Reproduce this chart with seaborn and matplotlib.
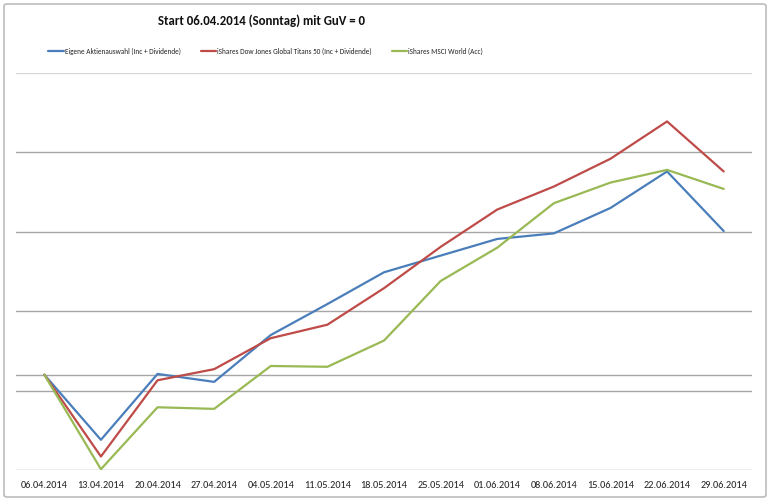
import matplotlib
matplotlib.use("Agg")
import matplotlib.pyplot as plt
from matplotlib.patches import FancyBboxPatch
import pandas as pd
import seaborn as sns

dates = ["06.04.2014", "13.04.2014", "20.04.2014", "27.04.2014", "04.05.2014",
         "11.05.2014", "18.05.2014", "25.05.2014", "01.06.2014", "08.06.2014",
         "15.06.2014", "22.06.2014", "29.06.2014"]

eigene = [0.0, -0.82, 0.01, -0.09, 0.50, 0.89, 1.29, 1.50, 1.71, 1.78, 2.10, 2.56, 1.81]
titans = [0.0, -1.03, -0.07, 0.07, 0.46, 0.63, 1.09, 1.61, 2.08, 2.37, 2.72, 3.19, 2.56]
msci = [0.0, -1.19, -0.41, -0.43, 0.11, 0.10, 0.43, 1.18, 1.60, 2.16, 2.42, 2.58, 2.34]

series_names = ["Eigene Aktienauswahl (Inc + Dividende)",
                "iShares Dow Jones Global Titans 50 (Inc + Dividende)",
                "iShares MSCI World (Acc)"]
colors = ["#4a7ebb", "#be4b48", "#98b954"]

df = pd.DataFrame({
    "datum": dates * 3,
    "wert": eigene + titans + msci,
    "serie": [series_names[0]] * 13 + [series_names[1]] * 13 + [series_names[2]] * 13,
})

sns.set_theme(style="white")
plt.rcParams["font.family"] = ["Carlito", "Liberation Sans", "DejaVu Sans"]

fig = plt.figure(figsize=(7.7, 5.01), dpi=100)
ax = fig.add_axes([16 / 770, 1 - 470 / 501, 736 / 770, 397 / 501])

# outer chart border
fig.patches.append(FancyBboxPatch((4 / 770, 4 / 501), 762 / 770, 493 / 501,
                                  boxstyle="round,pad=0,rounding_size=0.004",
                                  transform=fig.transFigure, fill=False,
                                  edgecolor="#bcbcbc", lw=1.2))

# gridlines + zero axis line
for g in [-1.2, -0.2, 0.8, 1.8, 2.8]:
    ax.axhline(g, color="#a6a6a6", lw=1.0, zorder=0)
ax.axhline(3.8, color="#d4d4d4", lw=1.6, zorder=0)
ax.axhline(0, color="#a6a6a6", lw=1.0, zorder=0)

sns.lineplot(data=df, x="datum", y="wert", hue="serie", palette=colors,
             lw=1.6, ax=ax, legend=False, sort=False)

ax.set_xlim(-0.5, 12.5)
ax.set_ylim(-1.2, 3.8)
ax.set_yticks([])
ax.set_xticks(range(len(dates)))
ax.set_xticklabels(dates, fontsize=7.4, color="#222222")
ax.tick_params(axis="x", length=0, pad=8)
ax.set_xlabel("")
ax.set_ylabel("")
for s in ax.spines.values():
    s.set_visible(False)

fig.text(0.339, 1 - 21 / 501, "Start 06.04.2014 (Sonntag) mit GuV = 0",
         ha="center", va="center", fontsize=9.3, fontweight="bold", color="#111111")

handles = [plt.Line2D([], [], color=c, lw=1.6) for c in colors]
fig.legend(handles, series_names, loc="center", bbox_to_anchor=(0.345, 1 - 51 / 501),
           ncol=3, frameon=False, fontsize=5.2, handlelength=2.1, handletextpad=0.15,
           columnspacing=2.8, labelcolor="#222222")

fig.savefig("out.png", dpi=100)
